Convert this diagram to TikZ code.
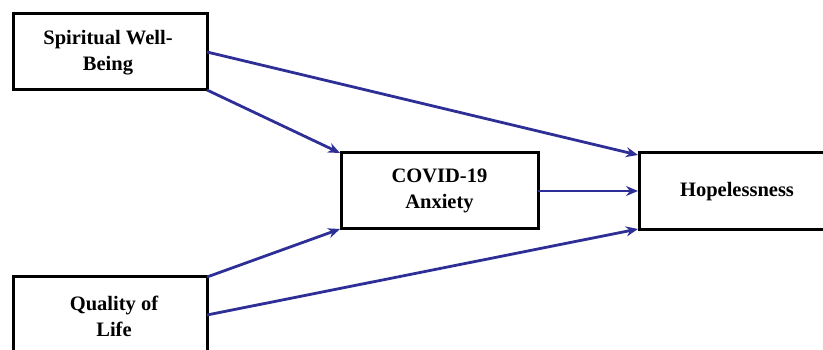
\documentclass[tikz,border=0pt]{standalone}
\usepackage{fontspec}
\setmainfont{Liberation Serif}
\usetikzlibrary{arrows.meta}
\definecolor{arrblue}{HTML}{2E2F96}
\tikzset{
  boxnode/.style={draw=black, line width=3pt, fill=white, inner sep=0pt},
  boxtext/.style={font=\fontsize{20.5}{26}\selectfont\bfseries, align=center},
  conn/.style={draw=arrblue, line width=2.8pt, -{Stealth[length=12pt,width=10pt]}}
}
\begin{document}
\begin{tikzpicture}[x=1pt,y=-1pt]
\useasboundingbox (0,0) rectangle (823,350);
\clip (0,0) rectangle (823,350);
% boxes
\draw[boxnode] (13,14) rectangle (207,90);
\node[boxtext] (swb) at (108,53) {Spiritual Well-\\Being};
\draw[boxnode] (341,153) rectangle (538,229);
\node[boxtext] (cov) at (439.5,191) {COVID-19\\Anxiety};
\draw[boxnode] (639,153) rectangle (860,230);
\node[boxtext] (hop) at (737,192) {Hopelessness};
\draw[boxnode] (13,277) rectangle (207,380);
\node[boxtext] (qol) at (114,316) {Quality of\\Life};
% anchor coordinates
\coordinate (swbR) at (207,52);
\coordinate (swbBR) at (207,90);
\coordinate (covTL) at (340,153);
\coordinate (covBL) at (340,229);
\coordinate (covR) at (538,191);
\coordinate (hopT) at (638,155);
\coordinate (hopM) at (638,191);
\coordinate (hopB) at (638,229);
\coordinate (qolTR) at (207,277);
\coordinate (qolR) at (207,315);
% connectors
\draw[conn] (swbR) -- (hopT);
\draw[conn] (swbBR) -- (covTL);
\draw[conn] (covR) -- (hopM);
\draw[conn] (qolTR) -- (covBL);
\draw[conn] (qolR) -- (hopB);
\end{tikzpicture}
\end{document}
